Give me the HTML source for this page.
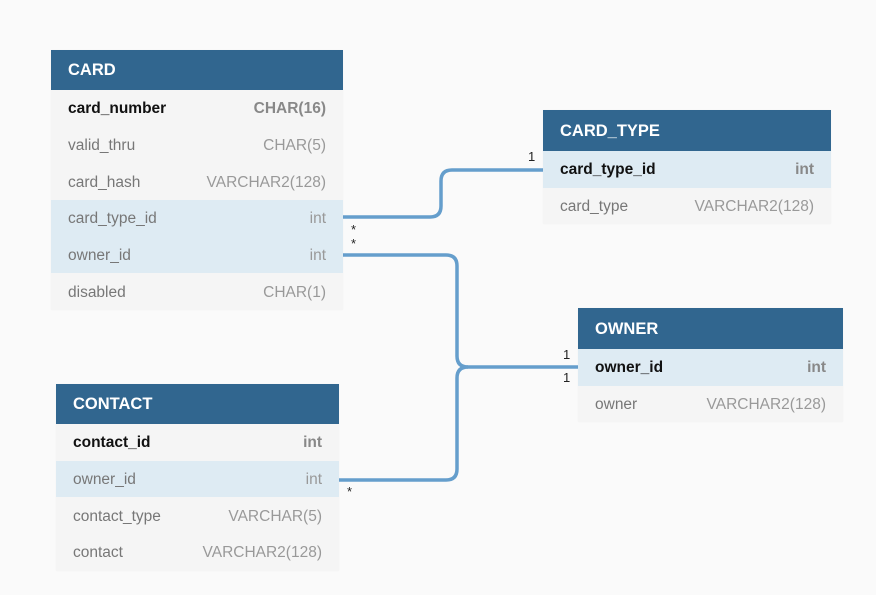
<!DOCTYPE html>
<html><head><meta charset="utf-8"><style>
body{margin:0;width:876px;height:595px;background:#fafafa;position:relative;overflow:hidden;font-family:"Liberation Sans",sans-serif}
.t{position:absolute;box-shadow:0 0 1px rgba(0,0,0,.05)}
.h{height:40px;background:#31668f;color:#fff;font-weight:bold;font-size:16.5px;line-height:41px;padding-left:17px;box-sizing:border-box}
.r{height:36.7px;background:#f5f5f5;display:flex;justify-content:space-between;align-items:center;padding:2px 17px 0;box-sizing:border-box;font-size:15.5px;color:#777}
.r.f{background:#deebf3}
.r.k .n{color:#111;font-weight:bold}
.r.k .y{font-weight:bold;color:#888}
.y{color:#999}
svg{position:absolute;left:0;top:0}
.lb{position:absolute;font-size:13px;color:#222}
</style></head><body>
<svg width="876" height="595">
<g fill="none" stroke="#659ecc" stroke-width="3.5">
<path d="M343 217 H430 Q441 217 441 206 V181 Q441 170 452 170 H543"/>
<path d="M343 255 H446 Q457 255 457 266 V356 Q457 367 468 367 H579"/>
<path d="M339 480 H446 Q457 480 457 469 V378 Q457 367 468 367"/>
</g></svg>
<div class="t" style="left:51px;top:50px;width:292px">
<div class="h">CARD</div>
<div class="r k"><span class="n">card_number</span><span class="y">CHAR(16)</span></div>
<div class="r"><span>valid_thru</span><span class="y">CHAR(5)</span></div>
<div class="r"><span>card_hash</span><span class="y">VARCHAR2(128)</span></div>
<div class="r f"><span>card_type_id</span><span class="y">int</span></div>
<div class="r f"><span>owner_id</span><span class="y">int</span></div>
<div class="r"><span>disabled</span><span class="y">CHAR(1)</span></div>
</div>
<div class="t" style="left:543px;top:110px;width:288px">
<div class="h" style="height:41px;line-height:42px">CARD_TYPE</div>
<div class="r f k"><span class="n">card_type_id</span><span class="y">int</span></div>
<div class="r"><span>card_type</span><span class="y">VARCHAR2(128)</span></div>
</div>
<div class="t" style="left:578px;top:308px;width:265px">
<div class="h" style="height:41px;line-height:42px">OWNER</div>
<div class="r f k"><span class="n">owner_id</span><span class="y">int</span></div>
<div class="r"><span>owner</span><span class="y">VARCHAR2(128)</span></div>
</div>
<div class="t" style="left:56px;top:384px;width:283px">
<div class="h">CONTACT</div>
<div class="r k"><span class="n">contact_id</span><span class="y">int</span></div>
<div class="r f"><span>owner_id</span><span class="y">int</span></div>
<div class="r"><span>contact_type</span><span class="y">VARCHAR(5)</span></div>
<div class="r"><span>contact</span><span class="y">VARCHAR2(128)</span></div>
</div>
<div class="lb" style="left:528px;top:149px">1</div>
<div class="lb" style="left:351px;top:222px">*</div>
<div class="lb" style="left:351px;top:236px">*</div>
<div class="lb" style="left:563px;top:347px">1</div>
<div class="lb" style="left:563px;top:370px">1</div>
<div class="lb" style="left:347px;top:484px">*</div>
</body></html>
